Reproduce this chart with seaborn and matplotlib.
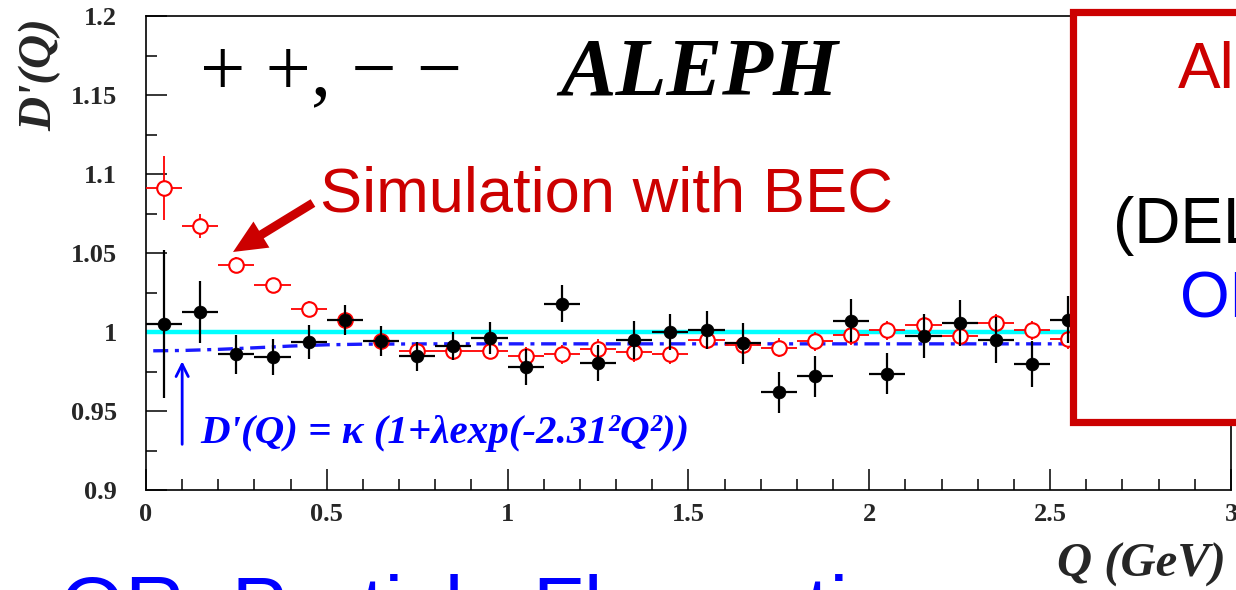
import numpy as np
import pandas as pd
import matplotlib
matplotlib.use("Agg")
import matplotlib.pyplot as plt
from matplotlib.patches import Rectangle, FancyArrowPatch
from matplotlib.ticker import MultipleLocator, FuncFormatter
import seaborn as sns

# ---------------- data ----------------
q_bins = [0.05, 0.15, 0.25, 0.35, 0.45, 0.55, 0.65, 0.75, 0.85, 0.95,
          1.05, 1.15, 1.25, 1.35, 1.45, 1.55, 1.65, 1.75, 1.85, 1.95,
          2.05, 2.15, 2.25, 2.35, 2.45, 2.55]
q_halfwidth = 0.05

data_d = [1.005, 1.0125, 0.986, 0.984, 0.9937, 1.0078, 0.994, 0.9846, 0.991, 0.9962,
          0.978, 1.018, 0.9804, 0.9952, 1.000, 1.0015, 0.993, 0.962, 0.972, 1.0072,
          0.9737, 0.9973, 1.0057, 0.9952, 0.9797, 1.0078]
data_err = [0.047, 0.0196, 0.0124, 0.0113, 0.0108, 0.0095, 0.0095, 0.0092, 0.009, 0.0103,
            0.0113, 0.0116, 0.0116, 0.012, 0.0117, 0.012, 0.013, 0.013, 0.013, 0.0135,
            0.013, 0.014, 0.0148, 0.0146, 0.0148, 0.015]

sim_d = [1.0911, 1.0669, 1.0422, 1.0296, 1.0146, 1.0078, 0.9941, 0.9878, 0.9878, 0.9878,
         0.9846, 0.986, 0.9895, 0.9873, 0.986, 0.9952, 0.992, 0.990, 0.9941, 0.998,
         1.001, 1.0047, 0.9973, 1.0057, 1.001, 0.9954]
sim_err = [0.02, 0.0076, 0.005, 0.0047, 0.005, 0.005, 0.005, 0.005, 0.005, 0.005,
           0.006, 0.006, 0.006, 0.006, 0.006, 0.006, 0.006, 0.006, 0.006, 0.006,
           0.006, 0.0063, 0.006, 0.006, 0.006, 0.006]

fit_q = [0.02, 0.1, 0.2, 0.3, 0.4, 0.5, 0.6, 0.8, 1.0, 2.6]
fit_d = [0.9881, 0.9883, 0.9890, 0.9900, 0.9911, 0.9919, 0.9923, 0.9925, 0.9925, 0.9925]

reference_level = 1.0

x_ticks = [0, 0.5, 1, 1.5, 2, 2.5, 3]
y_ticks = [0.9, 0.95, 1.0, 1.05, 1.1, 1.15, 1.2]

df_data = pd.DataFrame({"Q": q_bins, "D": data_d, "err": data_err})
df_sim = pd.DataFrame({"Q": q_bins, "D": sim_d, "err": sim_err})
df_fit = pd.DataFrame({"Q": fit_q, "D": fit_d})

# ---------------- style ----------------
sns.set_theme(style="white")
plt.rcParams["font.family"] = ["Liberation Serif", "DejaVu Serif"]

SERIF = ["Liberation Serif", "DejaVu Serif"]
SANS = ["Liberation Sans", "DejaVu Sans"]

fig = plt.figure(figsize=(12.36, 5.9), dpi=100)
fig.patch.set_facecolor("white")
ax = fig.add_axes([0.11812, 0.16949, 0.87783, 0.80339])
ax.set_facecolor("white")

# reference line and fit
ax.axhline(reference_level, color="#00ffff", lw=3.2, zorder=1)
sns.lineplot(data=df_fit, x="Q", y="D", ax=ax, color="#1a1aff", lw=2.4,
             estimator=None, sort=False, zorder=2)
ax.lines[-1].set_dashes([4.5, 2.0, 1.2, 2.0])

# simulation (red open circles)
ax.errorbar(df_sim["Q"], df_sim["D"], yerr=df_sim["err"], xerr=q_halfwidth,
            fmt="none", ecolor="#ff0000", elinewidth=1.3, capsize=0, zorder=3)
sns.scatterplot(data=df_sim, x="Q", y="D", ax=ax, marker="o", s=110,
                facecolor="white", edgecolor="#ff0000", linewidth=1.5, zorder=4)

# data (black filled circles)
ax.errorbar(df_data["Q"], df_data["D"], yerr=df_data["err"], xerr=q_halfwidth,
            fmt="none", ecolor="black", elinewidth=1.6, capsize=0, zorder=5)
sns.scatterplot(data=df_data, x="Q", y="D", ax=ax, marker="o", s=85,
                color="black", edgecolor="black", linewidth=0.5, zorder=6)

# axes
ax.set_xlim(x_ticks[0], x_ticks[-1])
ax.set_ylim(y_ticks[0], y_ticks[-1])
ax.xaxis.set_major_locator(MultipleLocator(0.5))
ax.xaxis.set_minor_locator(MultipleLocator(0.1))
ax.yaxis.set_major_locator(MultipleLocator(0.05))
ax.yaxis.set_minor_locator(MultipleLocator(0.025))
fmt = FuncFormatter(lambda v, p: f"{v:g}")
ax.xaxis.set_major_formatter(fmt)
ax.yaxis.set_major_formatter(fmt)
ax.tick_params(which="both", direction="in", top=False, right=False,
               bottom=True, left=True, color="black", width=1.1)
ax.tick_params(which="major", length=15)
ax.tick_params(which="minor", length=8)
ax.tick_params(axis="y", which="major", pad=21)
ax.tick_params(axis="x", which="major", pad=9)
for lab in ax.get_xticklabels() + ax.get_yticklabels():
    lab.set_fontfamily(SERIF)
    lab.set_fontweight("bold")
    lab.set_fontsize(19)
for sp in ax.spines.values():
    sp.set_color("black")
    sp.set_linewidth(1.2)

ax.set_xlabel("Q (GeV)", fontsize=35, fontweight="bold", fontstyle="italic",
              family=SERIF)
ax.set_ylabel("D'(Q)", fontsize=34, fontweight="bold", fontstyle="italic",
              family=SERIF)
ax.xaxis.label.set_va("center")
ax.yaxis.label.set_va("center")
ax.xaxis.set_label_coords(0.917, -0.158)
ax.yaxis.set_label_coords(-0.0977, 0.8755)

# in-plot texts
ax.text(0.149, 1.1504, "+ +, \u2212 \u2212", fontsize=58, family=SERIF,
        ha="left", va="baseline", color="black", zorder=7)
ax.text(1.146, 1.1504, "ALEPH", fontsize=60, family=SERIF, fontweight="bold",
        fontstyle="italic", ha="left", va="baseline", color="black", zorder=7)
ax.text(0.149, 0.9296, "D'(Q) = \u03ba (1+\u03bbexp(-2.31\u00b2Q\u00b2))", fontsize=29.5,
        family=SERIF, fontweight="bold", fontstyle="italic", ha="left",
        va="baseline", color="#0000ff", zorder=7)
ax.annotate("", xy=(0.1, 0.9815), xytext=(0.1, 0.9289),
            arrowprops=dict(arrowstyle="->", color="#0000ff", lw=2.0,
                            mutation_scale=22, shrinkA=0, shrinkB=0), zorder=7)

# slide overlays
fig.text(0.2589, 0.6412, "Simulation with BEC", fontsize=45.5, family=SANS,
         color="#cc0000", ha="left", va="baseline", zorder=10)
fig.add_artist(FancyArrowPatch(posA=(0.2532, 0.6559), posB=(0.1885, 0.5729),
                               transform=fig.transFigure,
                               arrowstyle="simple,head_length=1.2,head_width=1.1,tail_width=0.32",
                               mutation_scale=20, color="#cc0000", lw=0,
                               shrinkA=0, shrinkB=0, zorder=10))

box = Rectangle((0.8685, 0.2839), 0.3, 0.6958, transform=fig.transFigure,
                facecolor="white", edgecolor="#cc0000", lw=5.2, zorder=20,
                clip_on=False)
fig.add_artist(box)
fig.text(0.9531, 0.8508, "Al", fontsize=46, family=SANS, color="#cc0000",
         ha="left", va="baseline", zorder=21)
fig.text(0.9005, 0.5881, "(DELPHI)", fontsize=46, family=SANS, color="black",
         ha="left", va="baseline", zorder=21)
fig.text(0.9547, 0.4627, "OPAL", fontsize=46, family=SANS, color="#0000ff",
         ha="left", va="baseline", zorder=21)

fig.text(0.0485, -0.0763, "OR: Particle Flow ratio", fontsize=60, family=SANS,
         color="#0000ff", ha="left", va="baseline", zorder=21)

fig.savefig("out.png", dpi=100, facecolor="white")
